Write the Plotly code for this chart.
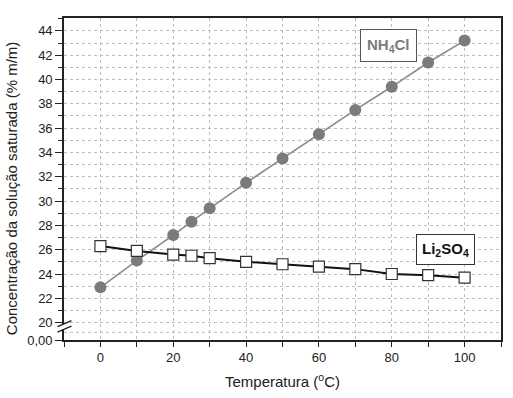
import plotly.graph_objects as go

# ---- data ----
temperature = [0, 10, 20, 25, 30, 40, 50, 60, 70, 80, 90, 100]
nh4cl = [22.9, 25.1, 27.2, 28.3, 29.4, 31.5, 33.5, 35.5, 37.5, 39.4, 41.4, 43.2]
li2so4 = [26.3, 25.9, 25.6, 25.5, 25.3, 25.0, 24.8, 24.6, 24.4, 24.0, 23.9, 23.7]

y_major = [20, 22, 24, 26, 28, 30, 32, 34, 36, 38, 40, 42, 44]
y_minor = [21, 23, 25, 27, 29, 31, 33, 35, 37, 39, 41, 43, 45]
x_major = [0, 20, 40, 60, 80, 100]
x_minor = [-10, 10, 30, 50, 70, 90, 110]
zero_label = "0,00"

# ---- layout constants ----
Y_BOTTOM = 18.57          # broken-axis bottom, labelled 0,00
Y_TOP = 45.06
X_RANGE = [-10, 110]
GRID = "#bdbdbd"
FONT = "Liberation Sans, Arial, sans-serif"
W, H = 513, 398
ML, MR, MT, MB = 64, 10, 18, 56
PW, PH = W - ML - MR, H - MT - MB

fig = go.Figure()

fig.add_trace(go.Scatter(
    x=temperature, y=nh4cl, mode="lines+markers", name="NH4Cl",
    line=dict(color="#8a8a8a", width=1.6),
    marker=dict(symbol="circle", size=12, color="#7b7b7b",
                line=dict(color="#7b7b7b", width=0)),
))
fig.add_trace(go.Scatter(
    x=temperature, y=li2so4, mode="lines+markers", name="Li2SO4",
    line=dict(color="#111111", width=2),
    marker=dict(symbol="square", size=11, color="white",
                line=dict(color="#333333", width=1.2)),
))

fig.update_layout(
    width=W, height=H,
    margin=dict(l=ML, r=MR, t=MT, b=MB),
    paper_bgcolor="white", plot_bgcolor="white",
    showlegend=False,
    font=dict(family=FONT, color="#222222", size=13),
)

fig.update_xaxes(
    range=X_RANGE,
    tickmode="array", tickvals=x_major, ticktext=[str(v) for v in x_major],
    ticks="outside", ticklen=5, tickwidth=1.2, tickcolor="#222",
    showline=True, linecolor="#222", linewidth=1.6, mirror=True,
    showgrid=True, gridcolor=GRID, griddash="dot", gridwidth=1,
    minor=dict(tickmode="array", tickvals=x_minor, ticks="outside",
               ticklen=5, tickwidth=1.2, tickcolor="#222",
               showgrid=True, gridcolor=GRID, griddash="dot", gridwidth=1),
    zeroline=False,
    tickfont=dict(size=13, family=FONT, color="#222"),
    title=dict(text="Temperatura (<sup>o</sup>C)",
               font=dict(size=15, family=FONT, color="#222"), standoff=12),
)

fig.update_yaxes(
    range=[Y_BOTTOM, Y_TOP],
    tickmode="array", tickvals=[Y_BOTTOM] + y_major,
    ticktext=[zero_label] + [str(v) for v in y_major],
    ticks="outside", ticklen=7, tickwidth=1.2, tickcolor="#222",
    showline=True, linecolor="#222", linewidth=1.6, mirror=True,
    showgrid=True, gridcolor=GRID, griddash="dot", gridwidth=1,
    minor=dict(tickmode="array", tickvals=y_minor, ticks="outside",
               ticklen=4, tickwidth=1.2, tickcolor="#222",
               showgrid=True, gridcolor=GRID, griddash="dot", gridwidth=1),
    zeroline=False,
    tickfont=dict(size=13, family=FONT, color="#222"),
)

# pixel -> paper helpers
def px_x(p):
    return (p - ML) / PW

def px_y(p):
    return (MT + PH - p) / PH

# y-axis title (placed as annotation for exact vertical centring)
fig.add_annotation(
    text="Concentração da solução saturada (% m/m)",
    xref="paper", yref="paper", x=px_x(12), y=px_y(190),
    xanchor="center", yanchor="middle", textangle=-90, showarrow=False,
    font=dict(size=15, family=FONT, color="#222"),
)

# series labels
fig.add_annotation(
    text="<b>NH<sub>4</sub>Cl</b>", x=79, y=42.8, xref="x", yref="y",
    showarrow=False, font=dict(size=15, family=FONT, color="#7b7b7b"),
    bgcolor="white", bordercolor="#555555", borderwidth=1, borderpad=6,
)
fig.add_annotation(
    text="<b>Li<sub>2</sub>SO<sub>4</sub></b>", x=94.8, y=26.0, xref="x", yref="y",
    showarrow=False, font=dict(size=15, family=FONT, color="#111111"),
    bgcolor="white", bordercolor="#333333", borderwidth=1, borderpad=5,
)

# extra grid line inside the broken segment
fig.add_shape(type="line", xref="paper", yref="y", x0=0, x1=1, y0=19.2, y1=19.2,
              line=dict(color=GRID, width=1, dash="dot"), layer="below")

# axis break marks
fig.add_shape(type="rect", xref="paper", yref="paper",
              x0=px_x(61), x1=px_x(67), y0=px_y(331), y1=px_y(326.5),
              line=dict(width=0), fillcolor="white")
for y_lo, y_hi in [(328.5, 322.5), (334.0, 328.0)]:
    fig.add_shape(type="line", xref="paper", yref="paper",
                  x0=px_x(57.5), y0=px_y(y_lo), x1=px_x(71.5), y1=px_y(y_hi),
                  line=dict(color="#222", width=1.4))

# remove the browser's default 8px body margin so the figure fills the window
fig.write_html("out.html", config={"displayModeBar": False},
               post_script="document.body.style.margin='0px';")
